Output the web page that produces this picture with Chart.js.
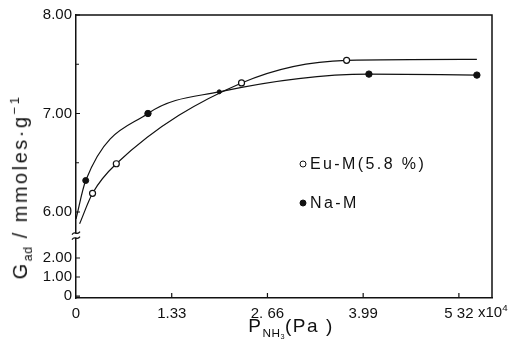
<!DOCTYPE html>
<html><head><meta charset="utf-8">
<script src="https://cdn.jsdelivr.net/npm/chart.js@4/dist/chart.umd.min.js"></script>
<style>
html,body{margin:0;padding:0;background:#fff;}
#wrap{position:relative;width:514px;height:352px;font-family:"Liberation Sans",Arial,sans-serif;color:#111;}
#c{position:absolute;left:0;top:0;}
.anchor{position:absolute;width:0;height:0;}
.ytitle{position:absolute;left:0;top:0;transform:translate(-50%,-50%) rotate(-90deg);white-space:nowrap;font-size:20px;letter-spacing:2.5px;line-height:1;}
.xtitle{position:absolute;left:0;top:0;transform:translate(-50%,-50%);white-space:nowrap;font-size:19px;letter-spacing:1.5px;line-height:1;}
sub{font-size:62%;vertical-align:-0.4em;letter-spacing:0.5px;}
sup{font-size:65%;vertical-align:0.6em;}
.sx{position:absolute;white-space:nowrap;font-size:15px;line-height:1;}
.leg{position:absolute;white-space:nowrap;font-size:16px;letter-spacing:2.4px;line-height:1;transform:translateY(-50%);}
.mk{position:absolute;width:5px;height:5px;border-radius:50%;border:1.2px solid #111;transform:translate(-50%,-50%);}
</style>
</head><body>
<div id="wrap">
<canvas id="c" width="514" height="352"></canvas>
<div class="anchor" style="left:21px;top:187px;"><span class="ytitle">G<sub>ad</sub> / mmoles·g<sup>−1</sup></span></div>
<div class="anchor" style="left:291px;top:328px;"><span class="xtitle">P<sub>NH<sub>3</sub></sub>(Pa )</span></div>
<div class="sx" style="left:478px;top:303px;">x10<sup>4</sup></div>
<div class="mk" style="left:303px;top:164px;background:#fff;"></div>
<div class="leg" style="left:310px;top:164px;">Eu-M(5.8 %)</div>
<div class="mk" style="left:303px;top:203px;background:#111;"></div>
<div class="leg" style="left:310px;top:203px;">Na-M</div>
</div>
<script>
// ---- data (x in units of 10^4 Pa, y in mmol/g) ----
const euX = [0.05, 0.23, 0.56, 2.30, 3.76, 5.57];
const euY = [5.88, 6.19, 6.49, 7.31, 7.54, 7.55];
const naX = [0.00, 0.135, 1.00, 1.99, 4.07, 5.57];
const naY = [5.93, 6.32, 7.00, 7.22, 7.40, 7.39];
const xTickValues = [0, 1.33, 2.66, 3.99, 5.32];
const xTickLabels = ['0', '1.33', '2. 66', '3.99', '5 32'];
const yTickUpper = [6, 7, 8];
const yTickUpperLabels = ['6.00', '7.00', '8.00'];
const yTickLower = [0, 1, 2];
const yTickLowerLabels = ['0', '1.00', '2.00'];
const yMinorUpper = [6.5, 7.5];

// broken axis: the lower segment (0..2) is compressed below the break
const LOW_BASE = 5.147, LOW_SCALE = 0.193, BREAK_AT = 5.76;
const lowToDisplay = v => LOW_BASE + v * LOW_SCALE;
const yTickValues = [...yTickLower.map(lowToDisplay), ...yTickUpper];
const yTickLabels = [...yTickLowerLabels, ...yTickUpperLabels];

const toPts = (xs, ys) => xs.map((x, i) => ({x, y: ys[i]}));
const INK = '#111';

const framePlugin = {
  id: 'frame',
  afterDraw(chart) {
    const {ctx, chartArea: a, scales: {x, y}} = chart;
    ctx.save();
    ctx.strokeStyle = INK; ctx.lineWidth = 1.5;
    ctx.beginPath();
    ctx.moveTo(a.left, a.top); ctx.lineTo(a.right, a.top); ctx.lineTo(a.right, a.bottom);
    ctx.stroke();
    ctx.lineWidth = 1.2;
    ctx.beginPath();
    xTickValues.forEach(v => { if (v === 0) return; const p = x.getPixelForValue(v); ctx.moveTo(p, a.bottom); ctx.lineTo(p, a.bottom - 5); });
    yTickValues.forEach(v => { const p = y.getPixelForValue(v); ctx.moveTo(a.left, p); ctx.lineTo(a.left + 4, p); });
    yMinorUpper.forEach(v => { const p = y.getPixelForValue(v); ctx.moveTo(a.left, p); ctx.lineTo(a.left + 3, p); });
    ctx.stroke();
    // axis break mark
    const b = y.getPixelForValue(BREAK_AT);
    ctx.fillStyle = '#fff';
    ctx.fillRect(a.left - 3, b - 2, 6, 4);
    ctx.beginPath();
    [-2.5, 2.5].forEach(d => {
      ctx.moveTo(a.left - 4, b + d + 1.5);
      ctx.bezierCurveTo(a.left - 1, b + d - 3, a.left + 1, b + d + 3, a.left + 4, b + d - 1.5);
    });
    ctx.stroke();
    ctx.restore();
  }
};

new Chart(document.getElementById('c'), {
  type: 'line',
  data: {
    datasets: [
      {
        label: 'Eu-M(5.8 %)',
        data: toPts(euX, euY),
        borderColor: INK, borderWidth: 1.2,
        pointRadius: [0, 3, 3, 3, 3, 0],
        pointBackgroundColor: '#fff', pointBorderColor: INK, pointBorderWidth: 1.2,
        cubicInterpolationMode: 'monotone', fill: false
      },
      {
        label: 'Na-M',
        data: toPts(naX, naY),
        borderColor: INK, borderWidth: 1.2,
        pointRadius: [0, 3, 3.2, 2, 3.2, 3.2],
        pointBackgroundColor: INK, pointBorderColor: INK, pointBorderWidth: 1,
        cubicInterpolationMode: 'monotone', fill: false
      }
    ]
  },
  options: {
    responsive: false,
    animation: false,
    devicePixelRatio: 1,
    layout: {padding: {top: 15, right: 22, left: 0, bottom: 0}},
    plugins: {legend: {display: false}, tooltip: {enabled: false}},
    scales: {
      x: {
        type: 'linear', min: 0, max: 5.78,
        afterBuildTicks: s => { s.ticks = xTickValues.map(v => ({value: v})); },
        afterFit: s => { s.height = 54; },
        grid: {display: false, drawTicks: false},
        border: {display: true, color: INK, width: 1.5},
        ticks: {autoSkip: false, maxRotation: 0, padding: 7, color: INK,
          font: {family: 'Liberation Sans', size: 15},
          callback: (v, i) => xTickLabels[i]}
      },
      y: {
        type: 'linear', min: LOW_BASE - 0.02, max: 8,
        afterBuildTicks: s => { s.ticks = yTickValues.map(v => ({value: v})); },
        afterFit: s => { s.width = 76; },
        grid: {display: false, drawTicks: false},
        border: {display: true, color: INK, width: 1.5},
        ticks: {autoSkip: false, padding: 4, color: INK,
          font: {family: 'Liberation Sans', size: 15},
          callback: (v, i) => yTickLabels[i]}
      }
    }
  },
  plugins: [framePlugin]
});
</script>
</body></html>
